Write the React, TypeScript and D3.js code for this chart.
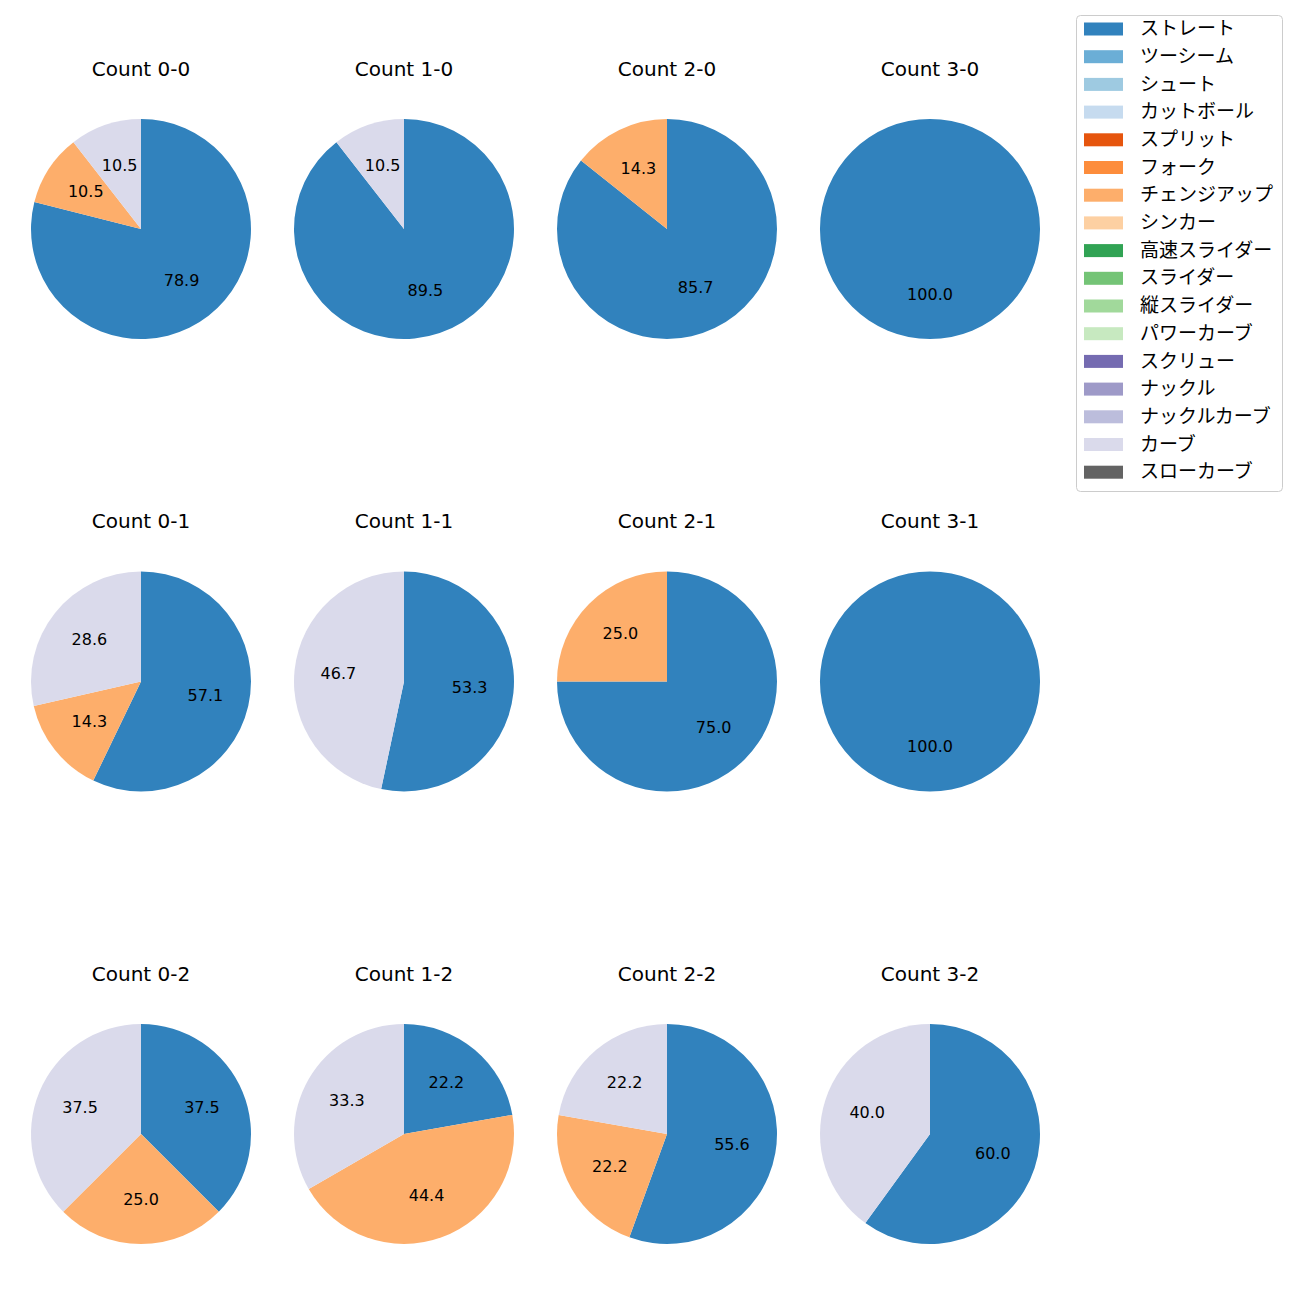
import * as d3 from 'd3';

// pitch types in legend order, with tab20c colours
const pitchTypes = [
  'ストレート', 'ツーシーム', 'シュート', 'カットボール', 'スプリット', 'フォーク',
  'チェンジアップ', 'シンカー', '高速スライダー', 'スライダー', '縦スライダー', 'パワーカーブ',
  'スクリュー', 'ナックル', 'ナックルカーブ', 'カーブ', 'スローカーブ',
];
const pitchColors = [
  '#3182bd', '#6baed6', '#9ecae1', '#c6dbef', '#e6550d', '#fd8d3c',
  '#fdae6b', '#fdd0a2', '#31a354', '#74c476', '#a1d99b', '#c7e9c0',
  '#756bb1', '#9e9ac8', '#bcbddc', '#dadaeb', '#636363',
];

const countLabels = [
  'Count 0-0', 'Count 1-0', 'Count 2-0', 'Count 3-0',
  'Count 0-1', 'Count 1-1', 'Count 2-1', 'Count 3-1',
  'Count 0-2', 'Count 1-2', 'Count 2-2', 'Count 3-2',
];

// pitches per count: ストレート, チェンジアップ, カーブ
const straightCounts = [15, 17, 6, 1, 4, 8, 3, 1, 3, 2, 5, 3];
const changeupCounts = [2, 0, 1, 0, 1, 0, 1, 0, 2, 4, 2, 0];
const curveCounts = [2, 2, 0, 0, 2, 7, 0, 0, 3, 3, 2, 2];

const FONT = '"DejaVu Sans", "Noto Sans CJK JP", sans-serif';
const JP_FONT = '"Noto Sans CJK JP", sans-serif';

type Slice = { type: string; value: number };

export default function App() {
  const width = 1300;
  const height = 1300;
  const colX = d3.scalePoint<number>().domain([0, 1, 2, 3]).range([141, 930]);
  const rowY = d3.scalePoint<number>().domain([0, 1, 2]).range([229, 1134]);
  const radius = 110;

  const colorOf = d3.scaleOrdinal<string, string>().domain(pitchTypes).range(pitchColors);

  const pie = d3.pie<Slice>().sort(null).value(d => d.value);
  const arc = d3.arc<d3.PieArcDatum<Slice>>().innerRadius(0).outerRadius(radius);
  const labelArc = d3.arc<d3.PieArcDatum<Slice>>().innerRadius(radius * 0.6).outerRadius(radius * 0.6);

  const legendY = d3.scaleLinear().domain([0, 1]).range([29, 29 + 27.7]);

  return (
    <svg width={width} height={height} style={{ display: 'block', position: 'absolute', left: 0, top: 0 }}>
      <rect width={width} height={height} fill="#fff" />
      {countLabels.map((label, i) => {
        const cx = colX(i % 4) ?? 0;
        const cy = rowY(Math.floor(i / 4)) ?? 0;
        const slices = [
          { type: 'ストレート', value: straightCounts[i] },
          { type: 'チェンジアップ', value: changeupCounts[i] },
          { type: 'カーブ', value: curveCounts[i] },
        ].filter(d => d.value > 0);
        const total = d3.sum(slices, d => d.value);
        const arcs = pie(slices);
        return (
          <g key={label}>
            <text x={cx} y={cy - 159} textAnchor="middle" fontFamily={FONT} fontSize={20} fill="#000"
              dominantBaseline="middle">
              {label}
            </text>
            <g transform={`translate(${cx},${cy})`}>
              {arcs.map(a => (
                <path key={a.data.type} d={arc(a) ?? ''} fill={colorOf(a.data.type)} />
              ))}
              {arcs.map(a => {
                const [lx, ly] = labelArc.centroid(a);
                return (
                  <text key={a.data.type + '-l'} x={lx} y={ly} textAnchor="middle" dominantBaseline="middle"
                    fontFamily={FONT} fontSize={16} fill="#000">
                    {((a.data.value / total) * 100).toFixed(1)}
                  </text>
                );
              })}
            </g>
          </g>
        );
      })}
      <g>
        <rect x={1076.5} y={15.5} width={206} height={476} rx={4} fill="#fff" fillOpacity={0.8}
          stroke="#cccccc" />
        {pitchTypes.map((t, i) => (
          <g key={t}>
            <rect x={1084} y={legendY(i) - 6.5} width={39} height={13} fill={colorOf(t)} />
            <text x={1140} y={legendY(i) + 1} dominantBaseline="middle" fontFamily={JP_FONT} fontSize={19}
              fill="#000">
              {t}
            </text>
          </g>
        ))}
      </g>
    </svg>
  );
}
